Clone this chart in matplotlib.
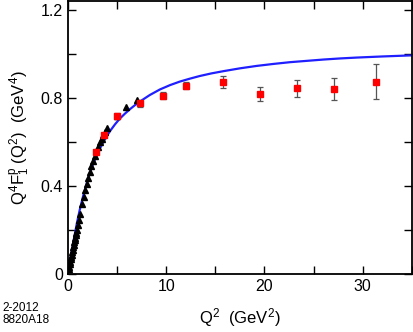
import matplotlib
matplotlib.use("Agg")
import matplotlib.pyplot as plt
from matplotlib.ticker import MultipleLocator

# -----------------------------------
# DATA
# -----------------------------------

# low Q^2 data (triangles)
q2_tri = [0.10, 0.15, 0.20, 0.25, 0.30, 0.35, 0.40, 0.45, 0.50, 0.55,
          0.60, 0.65, 0.70, 0.75, 0.80, 0.85, 0.90, 1.00, 1.10, 1.20,
          1.42, 1.60, 1.76, 1.93, 2.07, 2.27, 2.40, 2.60, 2.78, 3.08,
          3.25, 3.45, 3.60, 3.76, 3.93, 4.95, 5.96, 6.98]
f_tri = [0.022, 0.033, 0.044, 0.055, 0.066, 0.077, 0.088, 0.099, 0.110, 0.121,
         0.132, 0.143, 0.154, 0.165, 0.176, 0.187, 0.198, 0.222, 0.245, 0.270,
         0.318, 0.350, 0.380, 0.410, 0.435, 0.465, 0.490, 0.515, 0.535, 0.575,
         0.600, 0.615, 0.630, 0.647, 0.662, 0.718, 0.760, 0.790]

# high Q^2 data (squares)
q2_sq = [2.9, 3.7, 5.0, 7.3, 9.7, 12.0, 15.8, 19.5, 23.3, 27.1, 31.3]
f_sq = [0.553, 0.630, 0.718, 0.775, 0.810, 0.856, 0.871, 0.818, 0.844, 0.841, 0.873]
err_sq = [0.008, 0.010, 0.012, 0.015, 0.016, 0.018, 0.026, 0.032, 0.038, 0.050, 0.079]

# model curve
q2_fit = [0.0, 0.3, 0.6, 0.92, 1.2, 1.5, 1.93, 2.4, 2.82, 3.2, 3.7, 4.27,
          4.8, 5.29, 5.8, 6.3, 6.8, 7.32, 8.34, 9.36, 10.4, 11.4, 12.4, 13.4,
          14.6, 15.8, 17.5, 19.2, 20.9, 22.6, 24.3, 26.0, 27.7, 29.4, 32.0, 35.0]
f_fit = [0.0, 0.080, 0.155, 0.232, 0.290, 0.345, 0.415, 0.480, 0.527, 0.565,
         0.607, 0.648, 0.680, 0.706, 0.728, 0.748, 0.766, 0.783, 0.813, 0.838,
         0.858, 0.874, 0.887, 0.899, 0.911, 0.921, 0.934, 0.945, 0.954, 0.962,
         0.968, 0.974, 0.979, 0.983, 0.988, 0.993]

# -----------------------------------
# STYLE
# -----------------------------------

plt.rcParams['font.family'] = ['Liberation Sans', 'DejaVu Sans']
plt.rcParams['mathtext.fontset'] = 'custom'
plt.rcParams['mathtext.rm'] = 'Liberation Sans'
plt.rcParams['mathtext.it'] = 'Liberation Sans'
plt.rcParams['mathtext.bf'] = 'Liberation Sans'

fig = plt.figure(figsize=(4.14, 3.32), dpi=100)
ax = fig.add_axes([0.164, 0.175, 0.831, 0.822])

# -----------------------------------
# PLOT
# -----------------------------------

ax.plot(q2_fit, f_fit, color='#1f1fff', lw=1.6, zorder=2)

ax.plot(q2_tri, f_tri, linestyle='none', marker='^', color='black',
        markersize=4.5, zorder=3)

ax.errorbar(q2_sq, f_sq, yerr=err_sq, fmt='s', color='red',
            markersize=4, ecolor='#555555', elinewidth=0.9,
            capsize=2, capthick=0.9, zorder=4)

ax.set_xlim(0, 35)
ax.set_ylim(0, 1.24)

ax.xaxis.set_major_locator(MultipleLocator(10))
ax.xaxis.set_minor_locator(MultipleLocator(5))
ax.yaxis.set_minor_locator(MultipleLocator(0.2))
ax.set_yticks([0, 0.4, 0.8, 1.2])
ax.set_yticklabels(["0", "0.4", "0.8", "1.2"])

ax.tick_params(which='both', direction='in', top=True, right=True,
               labelsize=11.5, width=1.0, length=6)

for s in ax.spines.values():
    s.set_linewidth(1.3)

ax.set_xlabel(r"Q$^2$  (GeV$^2$)", fontsize=12, labelpad=9)
ax.set_ylabel(r"Q$^4$F$_1^\mathrm{p}$ (Q$^2$)  (GeV$^4$)", fontsize=12, labelpad=6)

fig.text(0.005, 0.018, "2-2012\n8820A18", fontsize=8.5, ha='left', va='bottom',
         linespacing=0.95)

plt.savefig("out.png", dpi=100)
plt.close()
